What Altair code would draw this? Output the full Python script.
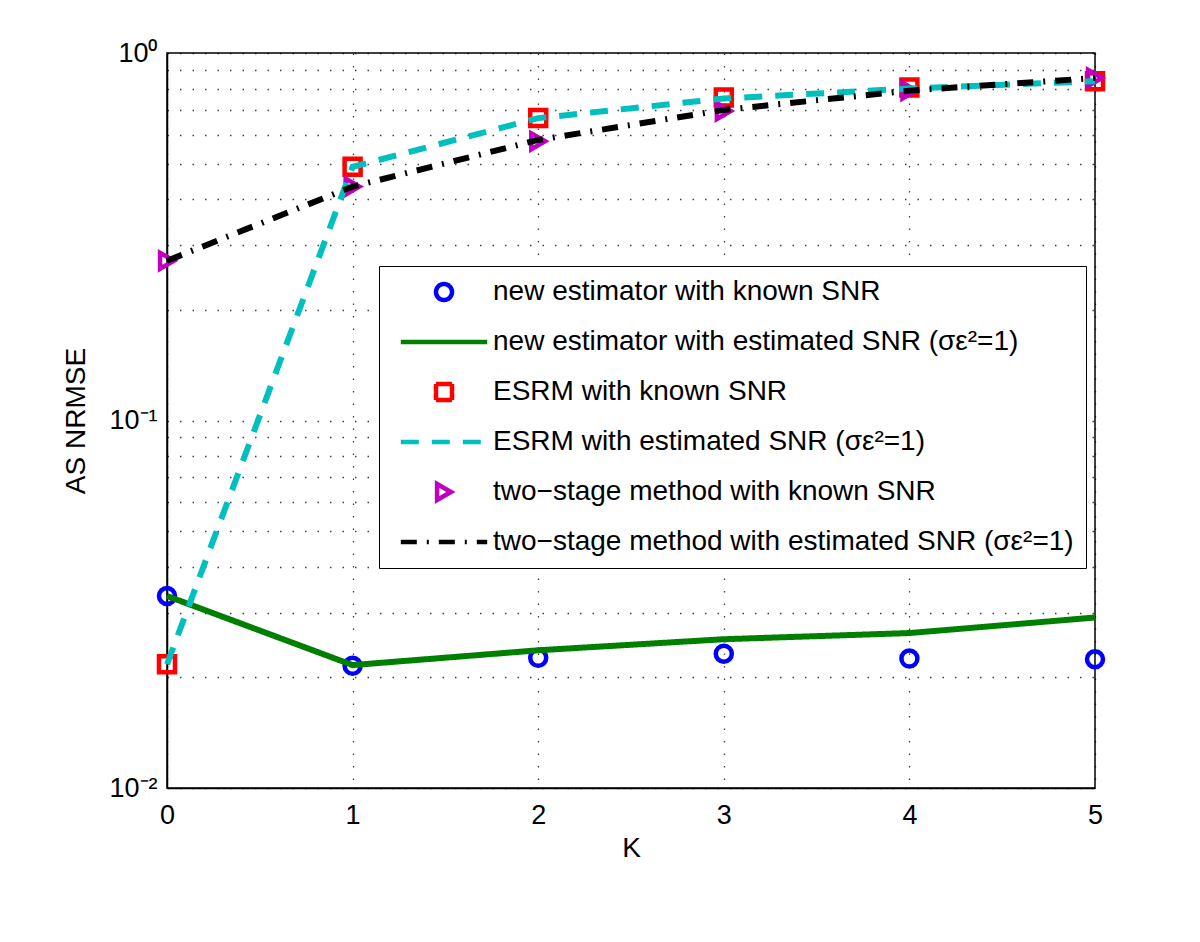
import altair as alt
import pandas as pd

K = [0, 1, 2, 3, 4, 5]
new_known = [0.0333, 0.0215, 0.0226, 0.0232, 0.0225, 0.0224]
new_est = [0.0333, 0.0216, 0.0237, 0.0254, 0.0264, 0.0291]
esrm_known = [0.0217, 0.490, 0.665, 0.757, 0.805, 0.838]
esrm_est = [0.0217, 0.490, 0.665, 0.752, 0.800, 0.838]
two_known = [0.272, 0.433, 0.575, 0.695, 0.790, 0.855]
two_est = [0.272, 0.433, 0.580, 0.700, 0.790, 0.855]

labels = [
    "new estimator with known SNR",
    "new estimator with estimated SNR (σε²=1)",
    "ESRM with known SNR",
    "ESRM with estimated SNR (σε²=1)",
    "two−stage method with known SNR",
    "two−stage method with estimated SNR (σε²=1)",
]
colors = ["#0000ff", "#007f00", "#ff0000", "#00bfbf", "#bf00bf", "#000000"]
LINE = "M-5.4,0H5.4"
shapes = ["circle", LINE, "square", LINE, "triangle-right", LINE]
dashes = [[1, 0], [1, 0], [1, 0], [18, 13], [1, 0], [16, 10, 2, 10]]

y_ticks = [0.01, 0.02, 0.03, 0.04, 0.05, 0.06, 0.07, 0.08, 0.09,
           0.1, 0.2, 0.3, 0.4, 0.5, 0.6, 0.7, 0.8, 0.9, 1]

point_series = [(labels[0], new_known), (labels[2], esrm_known), (labels[4], two_known)]
line_series = [(labels[1], new_est), (labels[3], esrm_est), (labels[5], two_est)]

pts = pd.DataFrame([{"K": k, "v": v, "series": n}
                    for n, vals in point_series for k, v in zip(K, vals)])
lns = pd.DataFrame([{"K": k, "v": v, "series": n}
                    for n, vals in line_series for k, v in zip(K, vals)])

FONT = "Liberation Sans"

x_enc = alt.X("K:Q",
              scale=alt.Scale(domain=[0, 5], nice=False, zero=False),
              axis=alt.Axis(values=K, title="K", format="d"))
y_enc = alt.Y("v:Q",
              scale=alt.Scale(type="log", domain=[0.01, 1], nice=False),
              axis=alt.Axis(values=y_ticks, title="AS NRMSE",
                            labelExpr="datum.value == 1 ? '10⁰' : datum.value == 0.1 ? '10⁻¹' : datum.value == 0.01 ? '10⁻²' : ''"))
color_enc = alt.Color("series:N", scale=alt.Scale(domain=labels, range=colors),
                      legend=alt.Legend(title=None))

points = alt.Chart(pts).mark_point(filled=False, size=256, strokeWidth=4.5, clip=False, opacity=1).encode(
    x=x_enc, y=y_enc, color=color_enc,
    shape=alt.Shape("series:N", scale=alt.Scale(domain=labels, range=shapes), legend=alt.Legend(title=None)),
)

lines = alt.Chart(lns).mark_line(strokeWidth=6, clip=False).encode(
    x=x_enc, y=y_enc, color=color_enc,
    strokeDash=alt.StrokeDash("series:N", scale=alt.Scale(domain=labels, range=dashes), legend=alt.Legend(title=None)),
)

chart = alt.layer(points, lines).properties(
    width=928, height=735,
    autosize=alt.AutoSizeParams(type="none"),
    padding={"left": 159, "top": 45, "right": 97, "bottom": 146},
).configure_view(
    stroke="black", strokeWidth=1.5
).configure_axis(
    labelFont=FONT, titleFont=FONT, labelFontSize=27, titleFontSize=28,
    titleFontWeight="normal", labelColor="black", titleColor="black",
    domainColor="black", domainWidth=1.5, ticks=False,
    grid=True, gridColor="black", gridOpacity=0.75, gridWidth=1.3, gridDash=[1.5, 11],
    labelOverlap=False, labelBound=False, labelFlush=False,
).configure_axisX(
    labelPadding=14, titlePadding=6,
).configure_axisY(
    labelPadding=10, titlePadding=18,
).configure_legend(
    orient="none", legendX=212, legendY=213, direction="vertical",
    fillColor="white", strokeColor="black", padding=12,
    labelFont=FONT, labelFontSize=28, labelColor="black", labelLimit=900,
    symbolSize=256, symbolStrokeWidth=4.5, symbolOffset=39, labelOffset=35,
    rowPadding=19, symbolFillColor="transparent",
)

chart.save("out.html", embed_options={"renderer": "svg", "actions": False})
